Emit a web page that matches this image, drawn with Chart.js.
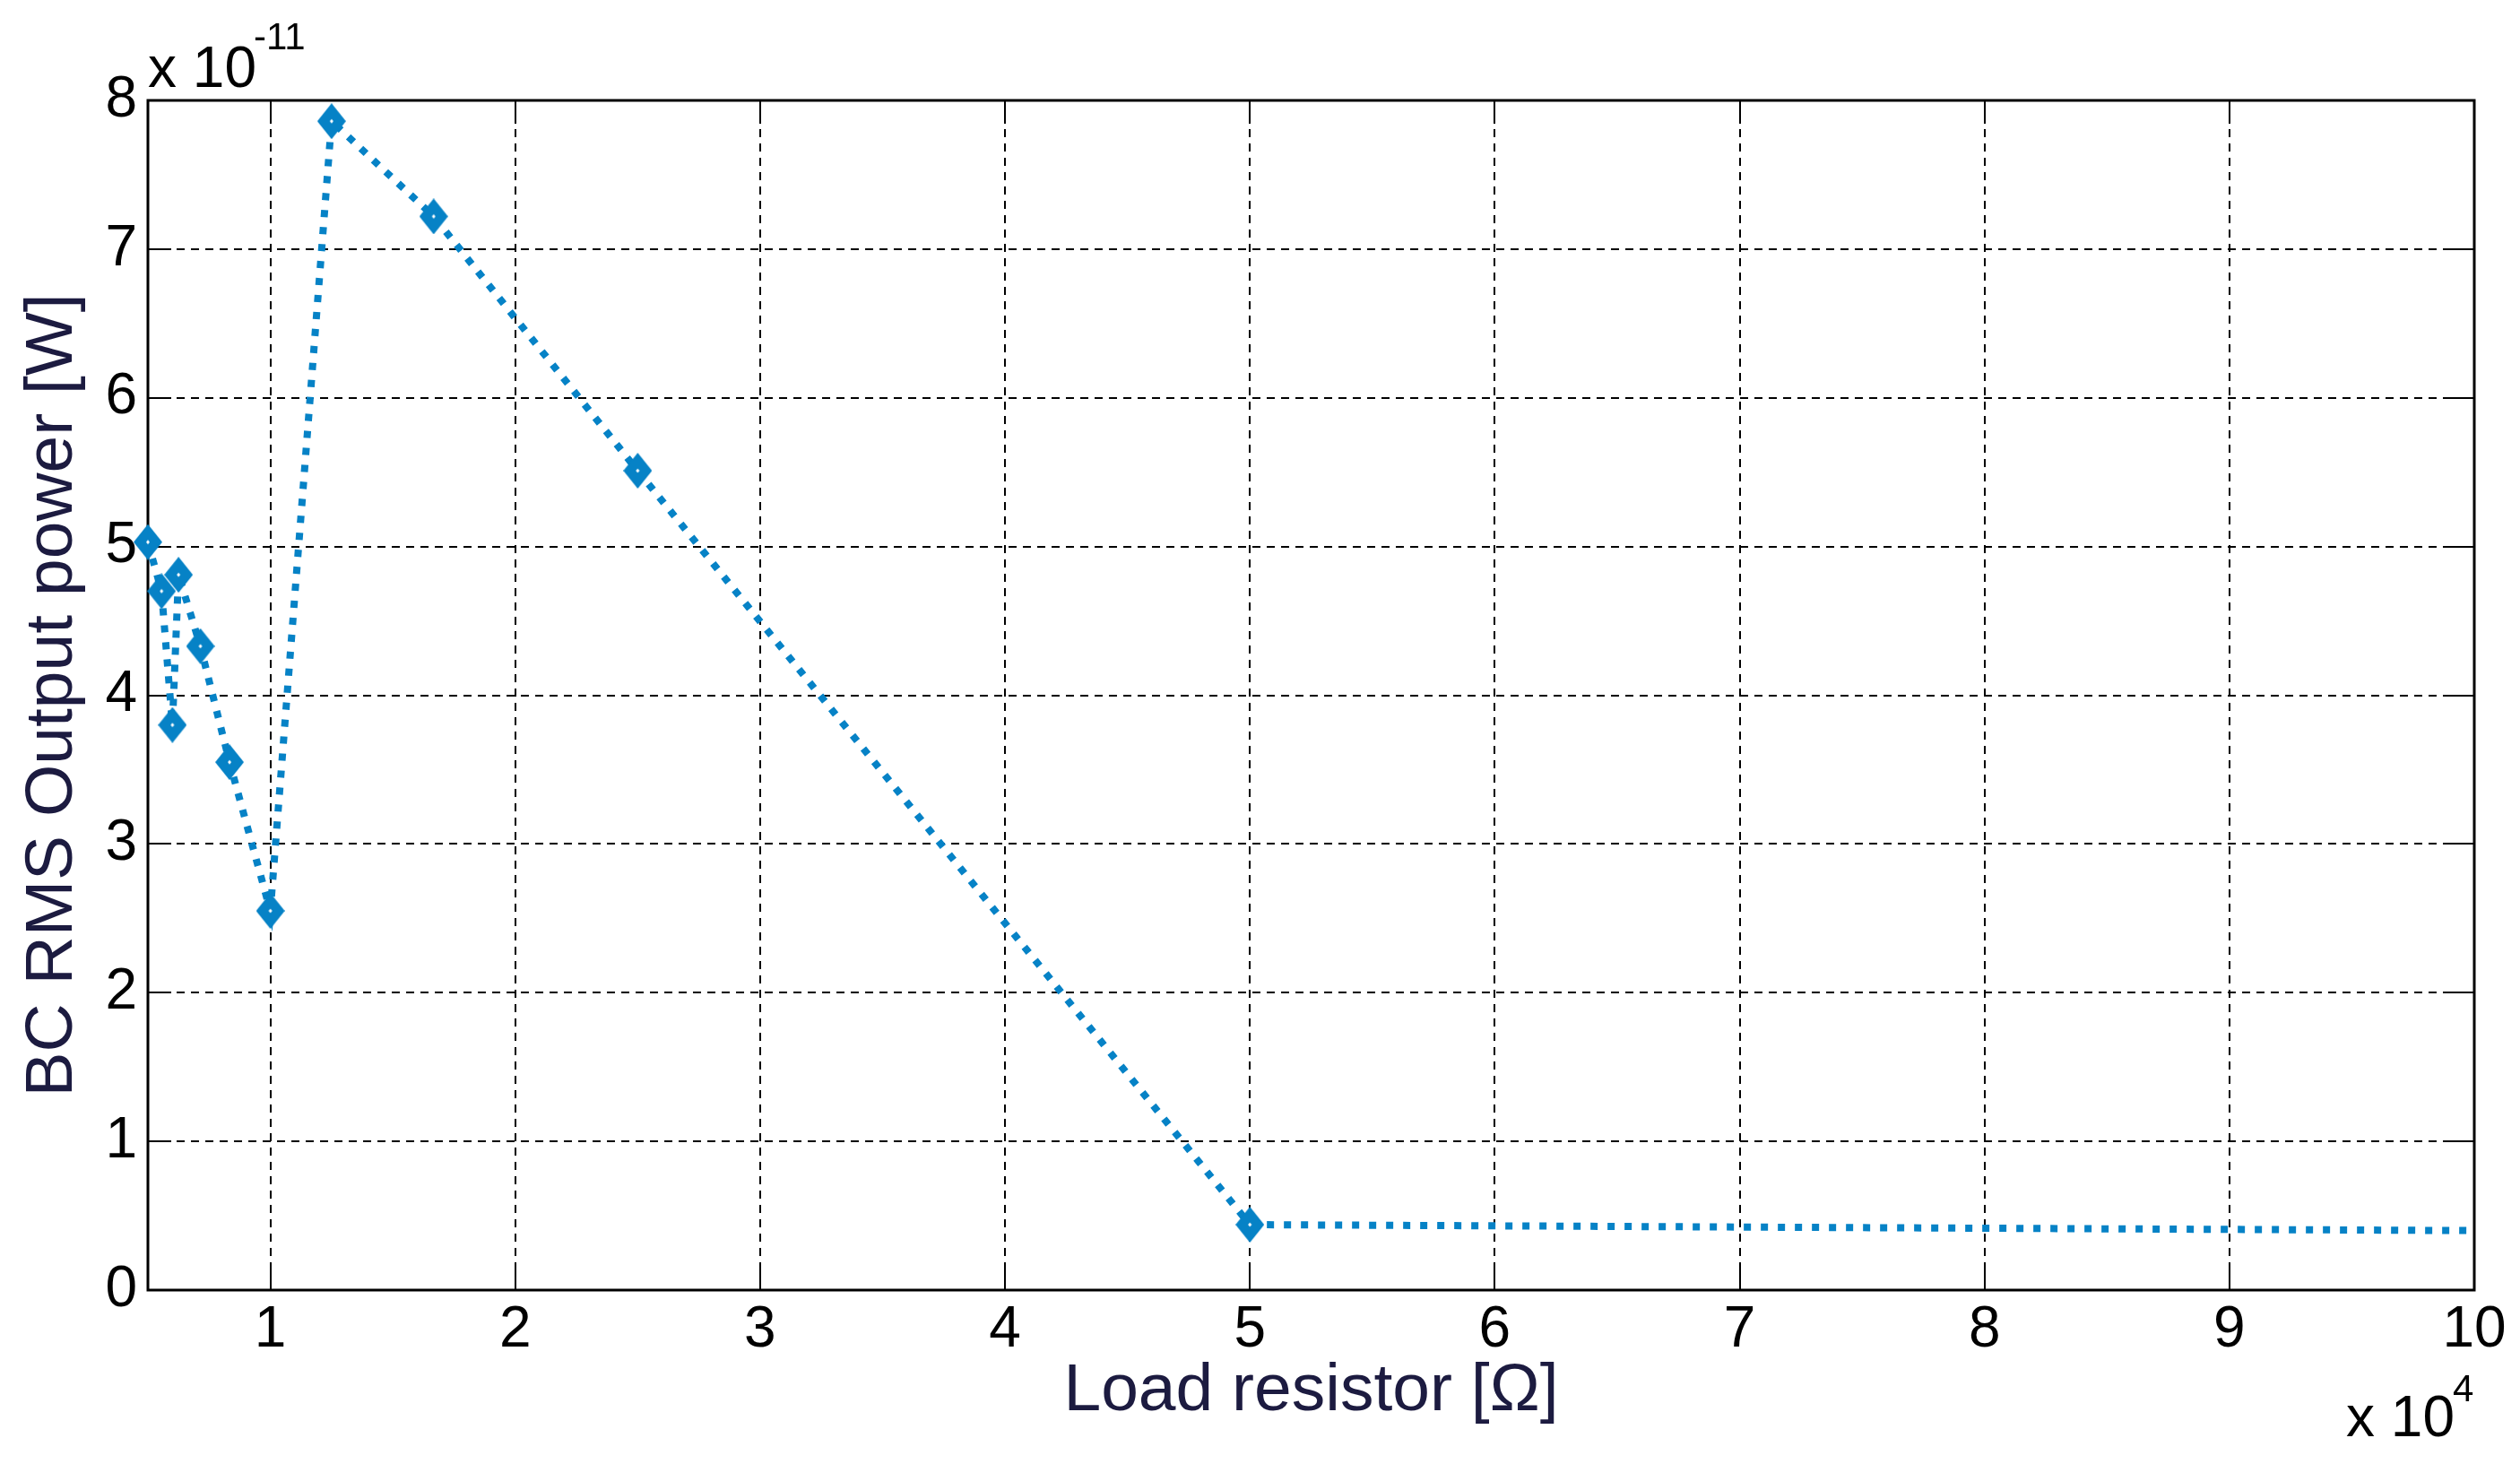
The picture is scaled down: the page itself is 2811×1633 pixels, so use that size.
<!DOCTYPE html>
<html>
<head>
<meta charset="utf-8">
<script src="https://cdn.jsdelivr.net/npm/chart.js@4.4.1/dist/chart.umd.min.js"></script>
<style>
html, body { margin: 0; padding: 0; background: #ffffff; }
#wrap { width: 2811px; height: 1633px; position: relative; }
</style>
</head>
<body>
<div id="wrap"><canvas id="c" width="2811" height="1633"></canvas></div>
<script>
// ---- data ----
const loadResistorOhm = [5000, 5556, 6000, 6250, 7143, 8333, 10000, 12500, 16667, 25000, 50000, 100000];
const outputPowerE11  = [5.03, 4.70, 3.80, 4.81, 4.33, 3.55, 2.55, 7.86, 7.22, 5.51, 0.44, 0.40];

const xTickValues = [10000, 20000, 30000, 40000, 50000, 60000, 70000, 80000, 90000, 100000];
const xTickLabels = ['1', '2', '3', '4', '5', '6', '7', '8', '9', '10'];
const yTickValues = [0, 1, 2, 3, 4, 5, 6, 7, 8];
const yTickLabels = ['0', '1', '2', '3', '4', '5', '6', '7', '8'];

const xExponentBase = 'x 10';
const xExponentPower = '4';
const yExponentBase = 'x 10';
const yExponentPower = '-11';
const xAxisTitle = 'Load resistor [Ω]';
const yAxisTitle = 'BC RMS Output power [W]';

// ---- styling ----
const FONT = '"Liberation Sans", Arial, Helvetica, sans-serif';
const LINE_COLOR = '#0682c6';
const TITLE_COLOR = '#1c1b40';

// diamond marker (MATLAB-like, taller than wide)
function makeDiamond() {
  const w = 32, h = 40;
  const cv = document.createElement('canvas');
  cv.width = w; cv.height = h;
  const g = cv.getContext('2d');
  g.fillStyle = LINE_COLOR;
  g.beginPath();
  g.moveTo(w / 2, 0); g.lineTo(w, h / 2); g.lineTo(w / 2, h); g.lineTo(0, h / 2);
  g.closePath(); g.fill();
  g.fillStyle = '#ffffff';
  g.beginPath();
  g.moveTo(w / 2, h / 2 - 2.5); g.lineTo(w / 2 + 2, h / 2); g.lineTo(w / 2, h / 2 + 2.5); g.lineTo(w / 2 - 2, h / 2);
  g.closePath(); g.fill();
  return cv;
}
const diamond = makeDiamond();

const TICK_LEN = 26;

const framePlugin = {
  id: 'matlabFrame',
  beforeDatasetsDraw(chart) {
    const { ctx, chartArea: a, scales } = chart;
    ctx.save();
    ctx.strokeStyle = '#000000';
    ctx.lineWidth = 2;
    ctx.setLineDash([]);
    ctx.beginPath();
    scales.x.ticks.forEach(t => {
      const px = Math.round(scales.x.getPixelForValue(t.value));
      ctx.moveTo(px, a.bottom); ctx.lineTo(px, a.bottom - TICK_LEN);
      ctx.moveTo(px, a.top); ctx.lineTo(px, a.top + TICK_LEN);
    });
    scales.y.ticks.forEach(t => {
      const py = Math.round(scales.y.getPixelForValue(t.value));
      ctx.moveTo(a.left, py); ctx.lineTo(a.left + TICK_LEN, py);
      ctx.moveTo(a.right, py); ctx.lineTo(a.right - TICK_LEN, py);
    });
    ctx.stroke();
    ctx.lineWidth = 3;
    ctx.strokeRect(a.left, a.top, a.right - a.left, a.bottom - a.top);
    ctx.restore();
  },
  afterDraw(chart) {
    const { ctx, chartArea: a } = chart;
    ctx.save();
    ctx.fillStyle = '#000000';
    ctx.textBaseline = 'alphabetic';
    ctx.textAlign = 'left';
    // y exponent, top-left
    ctx.font = '64px ' + FONT;
    ctx.fillText(yExponentBase, a.left, a.top - 15);
    let w = ctx.measureText(yExponentBase).width;
    ctx.font = '42px ' + FONT;
    ctx.fillText(yExponentPower, a.left + w - 3, a.top - 57);
    // x exponent, bottom-right
    ctx.font = '64px ' + FONT;
    const xb = a.right - 143;
    ctx.fillText(xExponentBase, xb, a.bottom + 163);
    w = ctx.measureText(xExponentBase).width;
    ctx.font = '42px ' + FONT;
    ctx.fillText(xExponentPower, xb + w - 2, a.bottom + 124);
    ctx.restore();
  }
};

new Chart(document.getElementById('c'), {
  type: 'line',
  data: {
    labels: loadResistorOhm,
    datasets: [{
      data: loadResistorOhm.map((x, i) => ({ x: x, y: outputPowerE11[i] })),
      borderColor: LINE_COLOR,
      backgroundColor: LINE_COLOR,
      borderWidth: 8,
      borderDash: [8, 11],
      borderCapStyle: 'butt',
      fill: false,
      tension: 0,
      pointStyle: diamond,
      pointRadius: ctx => (ctx.dataIndex === loadResistorOhm.length - 1 ? 0 : 16),
      pointHoverRadius: 16,
      clip: false
    }]
  },
  options: {
    responsive: false,
    animation: false,
    devicePixelRatio: 1,
    layout: { padding: { left: 0, right: 51, top: 112, bottom: 0 } },
    plugins: { legend: { display: false }, tooltip: { enabled: false } },
    scales: {
      x: {
        type: 'linear',
        min: 5000,
        max: 100000,
        afterFit(s) { s.height = 194; },
        afterBuildTicks(s) { s.ticks = xTickValues.map(v => ({ value: v })); },
        ticks: {
          padding: 13,
          color: '#000000',
          font: { family: FONT, size: 64, lineHeight: 1 },
          maxRotation: 0,
          autoSkip: false,
          callback: (v) => xTickLabels[xTickValues.indexOf(v)]
        },
        grid: { color: '#000000', lineWidth: 2, drawTicks: false },
        border: { display: false, dash: [9, 7] },
        title: {
          display: true,
          text: xAxisTitle,
          color: TITLE_COLOR,
          font: { family: FONT, size: 75, lineHeight: 1 },
          padding: { top: 0, bottom: 43 }
        }
      },
      y: {
        type: 'linear',
        min: 0,
        max: 8,
        afterFit(s) { s.width = 165; },
        afterBuildTicks(s) { s.ticks = yTickValues.map(v => ({ value: v })); },
        ticks: {
          padding: 12,
          color: '#000000',
          font: { family: FONT, size: 64, lineHeight: 1 },
          autoSkip: false,
          callback: (v) => yTickLabels[yTickValues.indexOf(v)]
        },
        grid: { color: '#000000', lineWidth: 2, drawTicks: false },
        border: { display: false, dash: [9, 7] },
        title: {
          display: true,
          text: yAxisTitle,
          color: TITLE_COLOR,
          font: { family: FONT, size: 75, lineHeight: 1 },
          padding: { top: 22, bottom: 0 }
        }
      }
    }
  },
  plugins: [framePlugin]
});
</script>
</body>
</html>
